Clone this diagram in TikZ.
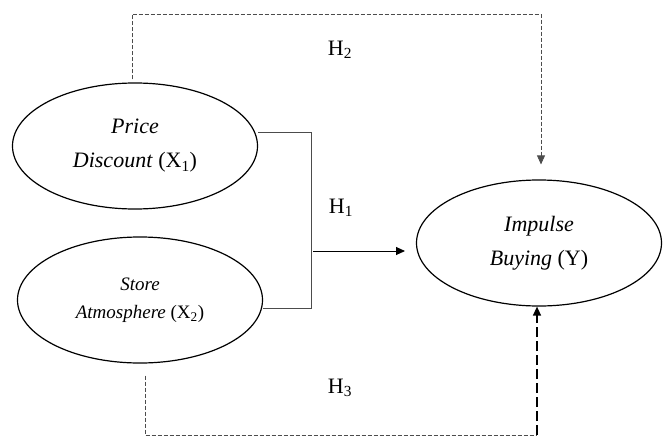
\documentclass[tikz,border=0pt]{standalone}
\usepackage{fontspec}
\setmainfont{Liberation Serif}
\usetikzlibrary{arrows.meta}
\usetikzlibrary{shapes.geometric}

\tikzset{
  var/.style={ellipse, draw, line width=1.2pt, minimum width=245pt, minimum height=126pt,
    inner sep=0pt, align=center, font=\fontsize{22}{34}\selectfont\itshape},
  hlabel/.style={font=\fontsize{22}{24}\selectfont},
  link/.style={line width=0.7pt, black!70},
  dlink/.style={line width=0.7pt, black!70, dash pattern=on 4pt off 2pt}
}

\begin{document}
\begin{tikzpicture}[x=1pt, y=-1pt, >={Triangle[length=9pt,width=8pt]}]
\useasboundingbox (0,0) rectangle (663,436);

% the three variables
\node[var] (pd) at (135,146) {Price\\Discount \textup{(X\textsubscript{1})}};
\node[var, font=\fontsize{19}{28}\selectfont\itshape] (sa) at (140,300) {Store\\Atmosphere \textup{(X\textsubscript{2})}};
\node[var] (ib) at (539,243) {Impulse\\Buying \textup{(Y)}};

% H1: both variables together
\coordinate (j1) at (311,132);
\coordinate (j2) at (311,308);
\coordinate (a1) at (313,251);
\coordinate (a2) at (405,251);
\draw[link] (pd.east |- j1) -- (j1) -- (j2) -- (sa.east |- j2);
\draw[line width=0.9pt,->] (a1) -- (a2);
\node[hlabel] (h1) at (341,208) {H\textsubscript{1}};

% H2: over the top
\coordinate (t1) at (132,14);
\coordinate (t2) at (541,14);
\draw[dlink,->] ([yshift=3pt]pd.north -| t1) -- (t1) -- (t2) -- ([yshift=15pt]ib.north -| t2);
\node[hlabel] (h2) at (340,50) {H\textsubscript{2}};

% H3: along the bottom
\coordinate (b1) at (145,435);
\coordinate (b2) at (537,435);
\draw[dlink] ([yshift=-12pt]sa.south -| b1) -- (b1) -- (b2);
\draw[line width=1.3pt, dash pattern=on 10pt off 4pt, ->] (b2) -- (ib.south -| b2);
\node[hlabel] (h3) at (340,388) {H\textsubscript{3}};

\end{tikzpicture}
\end{document}
